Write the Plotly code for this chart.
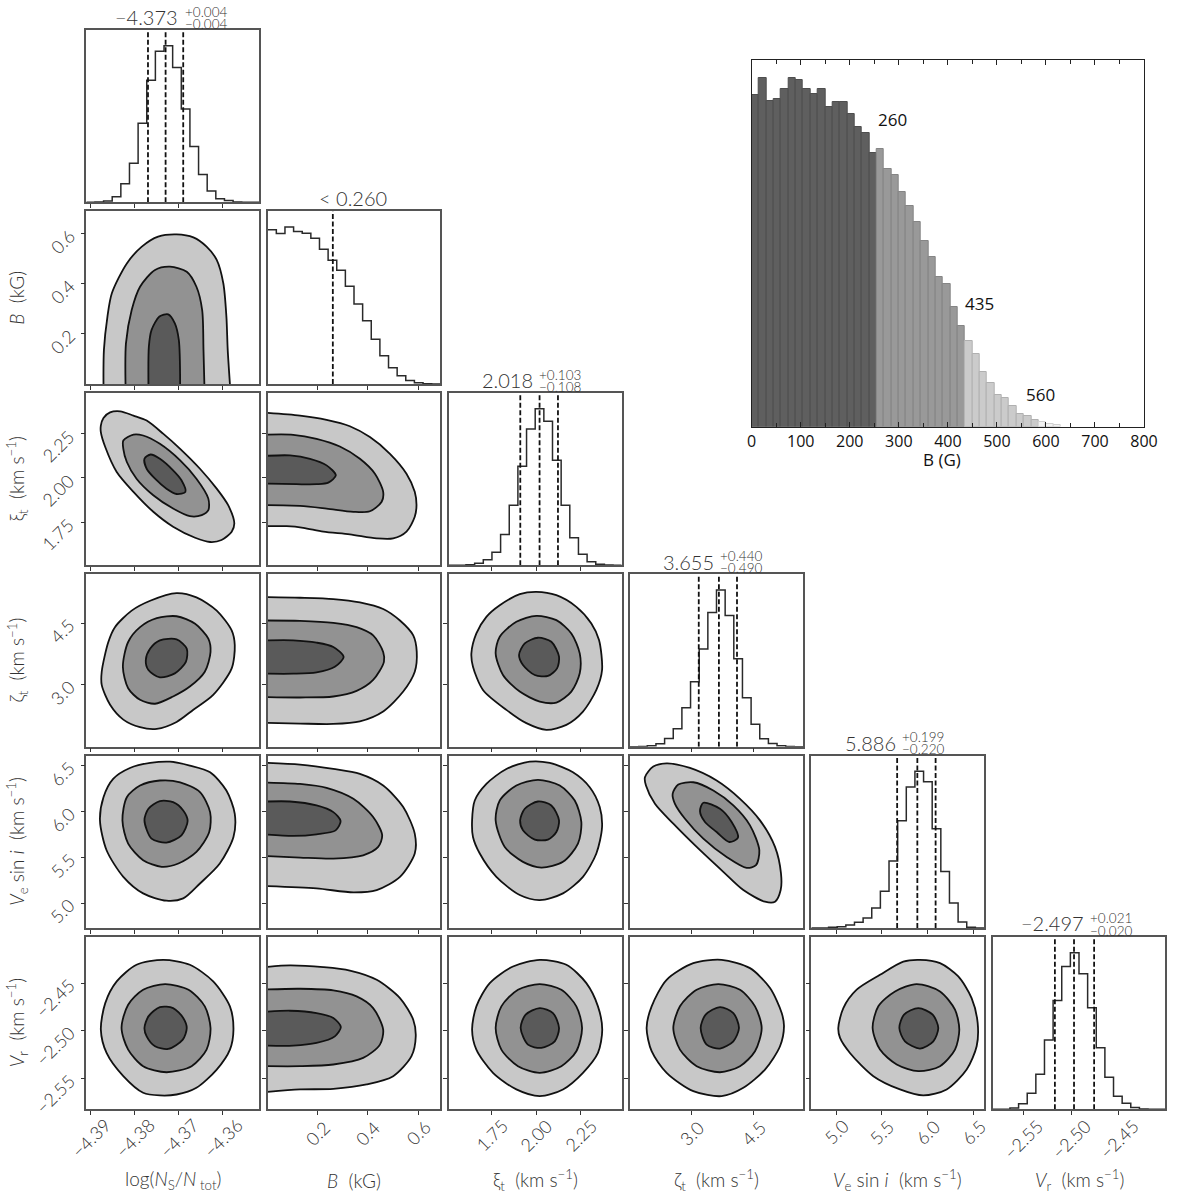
import numpy as np
import plotly.graph_objects as go

W, H = 1200, 1196

# ---- parameters, same order on both axes
labels = ["log(<i>N</i><sub>S</sub>/<i>N</i><sub> tot</sub>)", "<i>B</i>  (kG)",
          "ξ<sub>t</sub>  (km s<sup>−1</sup>)", "ζ<sub>t</sub>  (km s<sup>−1</sup>)",
          "<i>V</i><sub>e</sub> sin <i>i</i>  (km s<sup>−1</sup>)", "<i>V</i><sub>r</sub>  (km s<sup>−1</sup>)"]
ranges = [(-4.391, -4.3518), (0.0, 0.689), (1.509, 2.478), (1.493, 5.70), (4.731, 6.612), (-2.582, -2.4016)]
ticks = [[-4.39, -4.38, -4.37, -4.36], [0.2, 0.4, 0.6], [1.75, 2.0, 2.25], [3.0, 4.5],
         [5.0, 5.5, 6.0, 6.5], [-2.55, -2.5, -2.45]]
tick_text = [["−4.39", "−4.38", "−4.37", "−4.36"], ["0.2", "0.4", "0.6"], ["1.75", "2.00", "2.25"],
             ["3.0", "4.5"], ["5.0", "5.5", "6.0", "6.5"], ["−2.55", "−2.50", "−2.45"]]

# ---- 1D histograms, peak = 100
hist_logn = [0.1, 0.2, 0.9, 3.6, 11.9, 24.9, 50.4, 77.9, 96.4, 100, 86, 59.6, 35.7, 17.7, 7.2, 2.3, 1.1, 0.2, 0.1, 0]
hist_b = [98.3, 95.8, 100, 97.2, 96, 92.8, 85.8, 78.8, 72.4, 62.2, 51, 40.3, 28.5, 18, 10.4, 5.3, 2.3, 0.8, 0.2, 0]
hist_xi = [0, 0, 0.4, 1.3, 3.6, 8.3, 19.7, 38.4, 63.3, 87, 100, 92, 67, 38.4, 17.6, 7, 2.3, 0.6, 0.2, 0]
hist_zeta = [0, 0.2, 0.6, 1.9, 5.3, 11.5, 24.8, 41.4, 62.4, 85.6, 100, 83.7, 56.1, 31.2, 14.4, 5.1, 2.1, 0.6, 0.2, 0]
hist_vsini = [0, 0, 0.4, 0.8, 1.9, 3.6, 6.4, 12.7, 23.4, 42.7, 68.4, 90, 100, 93.4, 63.3, 36.1, 15.9, 3.8, 0.4, 0]
hist_vr = [0, 0, 0.8, 3.6, 10.2, 22.3, 44.2, 69.4, 91.1, 100, 86.6, 64.8, 39.3, 20.4, 8.3, 3.8, 1.1, 0.2, 0, 0]
hists = [hist_logn, hist_b, hist_xi, hist_zeta, hist_vsini, hist_vr]

quantiles = [[-4.377, -4.373, -4.369], [0.260], [1.910, 2.018, 2.121], [3.165, 3.655, 4.095],
             [5.666, 5.886, 6.085], [-2.517, -2.497, -2.476]]

# ---- 2D contours (outer, mid, inner), (x, y) in data units
b_logn_outer = [(-4.3871, 0), (-4.387, .136), (-4.3862, .269), (-4.3852, .362), (-4.3818, .481), (-4.3784, .548), (-4.3747, .588), (-4.3705, .597), (-4.3667, .585), (-4.3637, .548), (-4.3614, .495), (-4.3599, .402), (-4.3592, .269), (-4.3589, .136), (-4.3584, 0)]
b_logn_mid = [(-4.3821, 0), (-4.382, .162), (-4.3807, .295), (-4.3788, .388), (-4.3754, .455), (-4.372, .468), (-4.3682, .448), (-4.366, .388), (-4.3647, .295), (-4.3644, .136), (-4.3642, 0)]
b_logn_inner = [(-4.3769, 0), (-4.3768, .149), (-4.3762, .215), (-4.3744, .269), (-4.3724, .278), (-4.3709, .242), (-4.37, .176), (-4.3697, 0)]

xi_logn_outer = [(-4.3877, 2.295), (-4.3871, 2.338), (-4.3856, 2.369), (-4.3833, 2.375), (-4.3803, 2.351), (-4.3773, 2.323), (-4.3735, 2.248), (-4.3697, 2.164), (-4.3652, 2.052), (-4.3614, 1.940), (-4.3588, 1.847), (-4.3574, 1.744), (-4.358, 1.698), (-4.3603, 1.651), (-4.3629, 1.640), (-4.3663, 1.664), (-4.3713, 1.726), (-4.3758, 1.810), (-4.3803, 1.922), (-4.3841, 2.034), (-4.3867, 2.174), (-4.3877, 2.258)]
xi_logn_mid = [(-4.3826, 2.211), (-4.3803, 2.244), (-4.3781, 2.239), (-4.3743, 2.192), (-4.3697, 2.099), (-4.366, 1.996), (-4.3633, 1.884), (-4.3633, 1.819), (-4.3648, 1.791), (-4.3675, 1.785), (-4.3713, 1.828), (-4.3758, 1.903), (-4.3796, 1.996), (-4.3818, 2.090), (-4.3826, 2.164)]
xi_logn_inner = [(-4.3778, 2.108), (-4.3764, 2.132), (-4.3743, 2.108), (-4.3713, 2.043), (-4.3694, 1.987), (-4.3685, 1.922), (-4.3705, 1.910), (-4.3728, 1.940), (-4.3754, 1.996), (-4.3773, 2.052)]

xi_b_outer = [(0, 2.366), (.129, 2.351), (.235, 2.327), (.328, 2.291), (.408, 2.230), (.488, 2.136), (.554, 2.024), (.587, 1.922), (.594, 1.847), (.587, 1.782), (.554, 1.698), (.501, 1.660), (.435, 1.660), (.328, 1.683), (.222, 1.698), (.142, 1.720), (.076, 1.729), (0, 1.729)]
xi_b_mid = [(0, 2.244), (.102, 2.243), (.195, 2.220), (.288, 2.177), (.368, 2.108), (.428, 2.024), (.461, 1.922), (.455, 1.866), (.408, 1.813), (.342, 1.810), (.235, 1.828), (.129, 1.843), (0, 1.847)]
xi_b_inner = [(0, 2.125), (.089, 2.127), (.169, 2.108), (.235, 2.071), (.272, 2.015), (.242, 1.974), (.195, 1.965), (.116, 1.965), (0, 1.968)]

zeta_logn_outer = [(-4.3875, 3.322), (-4.386, 4.048), (-4.3845, 4.41), (-4.3807, 4.814), (-4.3765, 5.055), (-4.3705, 5.241), (-4.366, 5.136), (-4.3614, 4.814), (-4.358, 4.33), (-4.3573, 3.967), (-4.358, 3.403), (-4.3622, 2.758), (-4.3667, 2.396), (-4.3705, 2.097), (-4.375, 1.928), (-4.3788, 1.968), (-4.3826, 2.154), (-4.3856, 2.516), (-4.3875, 3.0)]
zeta_logn_mid = [(-4.3827, 3.443), (-4.3815, 4.048), (-4.3788, 4.41), (-4.375, 4.628), (-4.3705, 4.676), (-4.3663, 4.491), (-4.3633, 4.128), (-4.3628, 3.806), (-4.3641, 3.322), (-4.3675, 2.96), (-4.3713, 2.718), (-4.3754, 2.541), (-4.3788, 2.637), (-4.3815, 2.919)]
zeta_logn_inner = [(-4.3775, 3.605), (-4.3765, 3.887), (-4.3743, 4.088), (-4.3705, 4.112), (-4.3682, 3.887), (-4.3684, 3.564), (-4.3709, 3.282), (-4.3743, 3.185), (-4.3769, 3.363)]

zeta_b_outer = [(0, 5.144), (.129, 5.128), (.262, 5.096), (.368, 5.015), (.461, 4.854), (.528, 4.572), (.581, 4.209), (.595, 3.806), (.587, 3.322), (.541, 2.839), (.461, 2.355), (.368, 2.113), (.262, 2.049), (.129, 2.057), (0, 2.073)]
zeta_b_mid = [(0, 4.572), (.129, 4.564), (.262, 4.515), (.355, 4.41), (.421, 4.209), (.461, 3.806), (.464, 3.564), (.421, 3.121), (.355, 2.855), (.262, 2.718), (.129, 2.694), (0, 2.702)]
zeta_b_inner = [(0, 4.088), (.102, 4.088), (.195, 4.032), (.262, 3.927), (.303, 3.685), (.268, 3.443), (.195, 3.306), (.102, 3.274), (0, 3.274)]

zeta_xi_outer = [(1.636, 3.77), (1.664, 4.257), (1.72, 4.663), (1.795, 4.946), (1.907, 5.214), (2.0, 5.271), (2.112, 5.19), (2.224, 4.906), (2.308, 4.5), (2.351, 4.095), (2.368, 3.365), (2.336, 2.878), (2.261, 2.351), (2.168, 2.027), (2.056, 1.905), (1.944, 2.067), (1.832, 2.392), (1.701, 2.878), (1.645, 3.446)]
zeta_xi_mid = [(1.772, 3.77), (1.795, 4.176), (1.888, 4.541), (2.0, 4.687), (2.112, 4.581), (2.196, 4.257), (2.243, 3.77), (2.243, 3.284), (2.196, 2.838), (2.112, 2.57), (2.019, 2.595), (1.907, 2.838), (1.813, 3.243)]
zeta_xi_inner = [(1.903, 3.73), (1.935, 4.014), (2.009, 4.152), (2.084, 4.054), (2.127, 3.689), (2.116, 3.405), (2.065, 3.219), (1.991, 3.243), (1.925, 3.487)]

v_logn_outer = [(-4.3879, 5.906), (-4.3871, 6.159), (-4.3849, 6.359), (-4.3811, 6.478), (-4.3765, 6.533), (-4.372, 6.547), (-4.3675, 6.504), (-4.3629, 6.431), (-4.3592, 6.232), (-4.3573, 5.978), (-4.3576, 5.725), (-4.3607, 5.435), (-4.3652, 5.217), (-4.369, 5.054), (-4.3728, 5.029), (-4.3781, 5.109), (-4.3826, 5.29), (-4.3864, 5.58)]
v_logn_mid = [(-4.3828, 5.906), (-4.3818, 6.159), (-4.3788, 6.286), (-4.3743, 6.341), (-4.3697, 6.322), (-4.3652, 6.214), (-4.3629, 5.996), (-4.3631, 5.779), (-4.366, 5.562), (-4.3701, 5.435), (-4.3739, 5.399), (-4.3781, 5.471), (-4.3815, 5.652)]
v_logn_inner = [(-4.3778, 5.906), (-4.3769, 6.033), (-4.3743, 6.116), (-4.3713, 6.105), (-4.369, 6.014), (-4.368, 5.899), (-4.3694, 5.743), (-4.3728, 5.663), (-4.3762, 5.707)]

v_b_outer = [(0, 6.533), (.129, 6.514), (.262, 6.467), (.368, 6.413), (.461, 6.286), (.541, 6.051), (.587, 5.761), (.587, 5.544), (.528, 5.29), (.435, 5.145), (.342, 5.12), (.195, 5.163), (0, 5.188)]
v_b_mid = [(0, 6.319), (.129, 6.304), (.235, 6.261), (.342, 6.141), (.421, 5.942), (.457, 5.743), (.441, 5.616), (.381, 5.525), (.262, 5.489), (.129, 5.5), (0, 5.515)]
v_b_inner = [(0, 6.112), (.089, 6.112), (.195, 6.069), (.262, 5.996), (.291, 5.899), (.271, 5.797), (.195, 5.754), (.102, 5.736), (0, 5.75)]

v_xi_outer = [(1.64, 5.906), (1.655, 6.123), (1.72, 6.304), (1.832, 6.467), (1.963, 6.547), (2.075, 6.533), (2.205, 6.431), (2.299, 6.268), (2.355, 6.051), (2.368, 5.833), (2.336, 5.544), (2.261, 5.29), (2.149, 5.109), (2.019, 5.036), (1.907, 5.091), (1.776, 5.29), (1.683, 5.544), (1.645, 5.725)]
v_xi_mid = [(1.772, 5.906), (1.795, 6.123), (1.888, 6.286), (2.009, 6.348), (2.131, 6.286), (2.215, 6.123), (2.252, 5.888), (2.233, 5.652), (2.149, 5.453), (2.028, 5.391), (1.925, 5.453), (1.823, 5.616)]
v_xi_inner = [(1.909, 5.906), (1.935, 6.033), (2.009, 6.112), (2.084, 6.069), (2.127, 5.906), (2.112, 5.779), (2.065, 5.696), (1.991, 5.696), (1.925, 5.797)]

v_zeta_outer = [(1.856, 6.377), (2.059, 6.493), (2.384, 6.529), (2.951, 6.478), (3.6, 6.341), (4.168, 6.141), (4.654, 5.906), (5.019, 5.616), (5.165, 5.326), (5.157, 5.145), (5.019, 5.018), (4.776, 5.018), (4.249, 5.145), (3.762, 5.344), (3.114, 5.616), (2.546, 5.87), (2.1, 6.087), (1.881, 6.286)]
v_zeta_mid = [(2.53, 6.196), (2.667, 6.297), (3.032, 6.322), (3.519, 6.232), (4.006, 6.069), (4.411, 5.851), (4.638, 5.58), (4.557, 5.417), (4.33, 5.388), (3.843, 5.507), (3.276, 5.707), (2.83, 5.924), (2.586, 6.087)]
v_zeta_inner = [(3.195, 6.007), (3.276, 6.098), (3.681, 6.033), (3.965, 5.888), (4.119, 5.717), (3.908, 5.67), (3.6, 5.779), (3.316, 5.888)]

vr_logn_outer = [(-4.3877, -2.4986), (-4.3867, -2.4708), (-4.3841, -2.4481), (-4.3796, -2.4307), (-4.3735, -2.4255), (-4.3675, -2.4307), (-4.3622, -2.4481), (-4.3584, -2.4742), (-4.3576, -2.4986), (-4.3584, -2.5195), (-4.3614, -2.5404), (-4.366, -2.5595), (-4.3705, -2.5665), (-4.3743, -2.5675), (-4.3781, -2.5647), (-4.3826, -2.5473), (-4.3864, -2.523)]
vr_logn_mid = [(-4.383, -2.4969), (-4.3815, -2.4725), (-4.3781, -2.4568), (-4.3731, -2.4509), (-4.3678, -2.4568), (-4.3641, -2.4742), (-4.3628, -2.4969), (-4.3637, -2.5195), (-4.3671, -2.5369), (-4.3728, -2.5432), (-4.3781, -2.5369), (-4.3815, -2.5195)]
vr_logn_inner = [(-4.3778, -2.4969), (-4.3769, -2.4847), (-4.3743, -2.475), (-4.3713, -2.476), (-4.369, -2.4864), (-4.3682, -2.4969), (-4.3691, -2.509), (-4.3724, -2.5188), (-4.3754, -2.516), (-4.3773, -2.5056)]

vr_b_outer = [(0, -2.4328), (.089, -2.4314), (.222, -2.4332), (.328, -2.4367), (.435, -2.4464), (.528, -2.4655), (.581, -2.4882), (.591, -2.5056), (.574, -2.5264), (.501, -2.5473), (.395, -2.556), (.262, -2.5606), (.129, -2.5612), (0, -2.5637)]
vr_b_mid = [(0, -2.4565), (.129, -2.4558), (.262, -2.4575), (.355, -2.4638), (.421, -2.476), (.461, -2.4986), (.448, -2.5143), (.381, -2.5282), (.262, -2.5351), (.129, -2.5369), (0, -2.5369)]
vr_b_inner = [(0, -2.4798), (.089, -2.4788), (.195, -2.4812), (.262, -2.4864), (.292, -2.4958), (.268, -2.5056), (.195, -2.5125), (.102, -2.5153), (0, -2.5153)]

vr_xi_outer = [(1.64, -2.4986), (1.664, -2.4742), (1.739, -2.4499), (1.869, -2.4325), (2.019, -2.4255), (2.168, -2.4307), (2.28, -2.4499), (2.345, -2.4742), (2.369, -2.4986), (2.345, -2.523), (2.261, -2.5438), (2.149, -2.5612), (2.019, -2.5682), (1.888, -2.5612), (1.757, -2.5438), (1.664, -2.5195)]
vr_xi_mid = [(1.772, -2.4969), (1.804, -2.4742), (1.897, -2.4568), (2.019, -2.4509), (2.14, -2.4568), (2.224, -2.4742), (2.256, -2.4969), (2.224, -2.5212), (2.14, -2.5369), (2.019, -2.5438), (1.897, -2.5369), (1.804, -2.5195)]
vr_xi_inner = [(1.912, -2.4969), (1.94, -2.4829), (2.019, -2.476), (2.093, -2.4812), (2.127, -2.4969), (2.103, -2.5108), (2.028, -2.5177), (1.953, -2.5143)]

vr_zeta_outer = [(1.897, -2.4969), (2.019, -2.4742), (2.384, -2.4464), (3.032, -2.429), (3.722, -2.4255), (4.411, -2.4342), (4.898, -2.4551), (5.182, -2.4812), (5.238, -2.4951), (5.141, -2.516), (4.776, -2.5404), (4.249, -2.5595), (3.722, -2.5682), (3.032, -2.563), (2.384, -2.5438), (2.019, -2.5212)]
vr_zeta_mid = [(2.546, -2.4969), (2.708, -2.4742), (3.114, -2.4568), (3.641, -2.4509), (4.168, -2.4568), (4.533, -2.4742), (4.695, -2.4969), (4.533, -2.5212), (4.168, -2.5369), (3.681, -2.5432), (3.114, -2.5369), (2.708, -2.5195)]
vr_zeta_inner = [(3.211, -2.4969), (3.333, -2.4829), (3.681, -2.475), (4.006, -2.4812), (4.143, -2.4969), (4.006, -2.5108), (3.681, -2.5184), (3.357, -2.5143)]

vr_v_outer = [(5.025, -2.4969), (5.08, -2.476), (5.225, -2.4568), (5.479, -2.4412), (5.733, -2.4273), (5.915, -2.4255), (6.133, -2.429), (6.332, -2.4429), (6.477, -2.4655), (6.543, -2.4916), (6.532, -2.516), (6.423, -2.5404), (6.205, -2.5612), (5.951, -2.5675), (5.697, -2.5612), (5.407, -2.5473), (5.152, -2.523), (5.044, -2.5073)]
vr_v_mid = [(5.399, -2.4969), (5.461, -2.4742), (5.643, -2.4586), (5.878, -2.4509), (6.133, -2.4586), (6.296, -2.4777), (6.343, -2.4986), (6.296, -2.5195), (6.133, -2.5369), (5.897, -2.5421), (5.661, -2.5351), (5.479, -2.5195)]
vr_v_inner = [(5.69, -2.4969), (5.741, -2.4829), (5.897, -2.476), (6.053, -2.4829), (6.114, -2.4969), (6.06, -2.5108), (5.915, -2.5184), (5.751, -2.5108)]

contours = {
    (1, 0): [b_logn_outer, b_logn_mid, b_logn_inner],
    (2, 0): [xi_logn_outer, xi_logn_mid, xi_logn_inner],
    (2, 1): [xi_b_outer, xi_b_mid, xi_b_inner],
    (3, 0): [zeta_logn_outer, zeta_logn_mid, zeta_logn_inner],
    (3, 1): [zeta_b_outer, zeta_b_mid, zeta_b_inner],
    (3, 2): [zeta_xi_outer, zeta_xi_mid, zeta_xi_inner],
    (4, 0): [v_logn_outer, v_logn_mid, v_logn_inner],
    (4, 1): [v_b_outer, v_b_mid, v_b_inner],
    (4, 2): [v_xi_outer, v_xi_mid, v_xi_inner],
    (4, 3): [v_zeta_outer, v_zeta_mid, v_zeta_inner],
    (5, 0): [vr_logn_outer, vr_logn_mid, vr_logn_inner],
    (5, 1): [vr_b_outer, vr_b_mid, vr_b_inner],
    (5, 2): [vr_xi_outer, vr_xi_mid, vr_xi_inner],
    (5, 3): [vr_zeta_outer, vr_zeta_mid, vr_zeta_inner],
    (5, 4): [vr_v_outer, vr_v_mid, vr_v_inner],
}

# ---- inset histogram of B in gauss
inset_counts = [995, 1046, 977, 984, 1012, 1047, 1040, 1014, 999, 1012, 959, 975, 973, 939, 899, 880, 822,
                832, 772, 755, 703, 661, 614, 557, 508, 449, 429, 360, 303,
                257, 219, 164, 132, 96, 85, 62, 38, 32, 19,
                14, 8, 5]
inset_group = [0] * 17 + [1] * 12 + [2] * 10 + [3] * 3
inset_bin = 15
inset_marks = [("260", 288, 922), ("435", 464, 370), ("560", 589, 98)]

# ---- layout bits (pixels of the page)
col_px = [(86.3, 259), (267.7, 440.3), (448.7, 621.7), (630, 803), (811.3, 984), (992.7, 1165.3)]
row_px = [(30, 202.3), (211.3, 384), (393, 565.3), (574.3, 746.7), (755.7, 928), (937, 1109.3)]
fills = ["#c8c8c8", "#929292", "#5a5a5a"]
bar_fill = ["#5f5f5f", "#999999", "#cbcbcb", "#f2f2f2"]
bar_edge = ["#4e4e4e", "#858585", "#b0b0b0", "#d0d0d0"]
FONT = "Lato"
INK = "#333333"
# main text right x, y, superscript left x, sup y, sub y
titles = [("−4.373", "+0.004", "−0.004", 180, 17, 183, 12, 24),
          ("2.018", "+0.103", "−0.108", 535, 380, 537, 375, 387),
          ("3.655", "+0.440", "−0.490", 716, 562, 718, 556, 568),
          ("5.886", "+0.199", "−0.220", 898, 743, 900, 737, 749),
          ("−2.497", "+0.021", "−0.020", 1086, 923, 1088, 918, 931)]
xlabel_y = [1138, 1133, 1135, 1133, 1132, 1139]
ylabel_x = [0, 62, 58, 62, 62, 55]
ylabel_drop = [0, 8, 12, 8, 8, 15]


def px(x):
    return x / W


def py(y):
    return 1 - y / H


def text_note(x, y, text, font, xref="paper", yref="paper", xanchor="center", **kw):
    return dict(x=x, y=y, xref=xref, yref=yref, text=text, showarrow=False, xanchor=xanchor, yanchor="middle",
                font=font, **kw)


def add_axes(layout, n, col, row, xr, yr, xt, yt):
    base = dict(showgrid=False, zeroline=False, showline=True, mirror=True, linecolor="#555555", linewidth=1.5,
                showticklabels=False, ticks="outside", ticklen=4, tickwidth=1.2, tickcolor="#333333")
    layout[f"xaxis{n}"] = dict(base, domain=[px(col[0]), px(col[1])], range=xr, tickvals=xt, anchor=f"y{n}")
    layout[f"yaxis{n}"] = dict(base, domain=[py(row[1]), py(row[0])], range=yr, tickvals=yt, anchor=f"x{n}")


tick_font = dict(family=FONT, size=18, color=INK, weight=300)
name_font = dict(family=FONT, size=19, color=INK, weight=300)
main_font = dict(family=FONT, size=20, color=INK, weight=300)
small_font = dict(family=FONT, size=13.5, color=INK, weight=300)
inset_font = dict(family="Open Sans", size=17, color="#111111")

fig = go.Figure()
layout = {}
ann = []
n = 0
for r in range(6):
    for c in range(r + 1):
        n += 1
        if r == c:
            add_axes(layout, n, col_px[c], row_px[r], ranges[c], [0, 110], ticks[c], [])
            edges = np.linspace(ranges[c][0], ranges[c][1], 21)
            fig.add_trace(go.Scatter(x=edges, y=hists[c] + [hists[c][-1]], mode="lines",
                                     line=dict(color="#2a2a2a", width=1.5, shape="hv"),
                                     xaxis=f"x{n}", yaxis=f"y{n}", hoverinfo="skip", showlegend=False))
            for q in quantiles[c]:
                fig.add_trace(go.Scatter(x=[q, q], y=[0, 110], mode="lines",
                                         line=dict(color="#111111", width=1.8, dash="5px,2.5px"),
                                         xaxis=f"x{n}", yaxis=f"y{n}", hoverinfo="skip", showlegend=False))
        else:
            add_axes(layout, n, col_px[c], row_px[r], ranges[c], ranges[r], ticks[c], ticks[r])
            for level, points in enumerate(contours[(r, c)]):
                pts = list(points)
                if pts[0][0] != 0 and pts[-1][0] != 0 and (r, c) != (1, 0):
                    pts = pts + [pts[0]]
                fig.add_trace(go.Scatter(x=[p[0] for p in pts], y=[p[1] for p in pts], mode="lines", fill="toself",
                                         fillcolor=fills[level],
                                         line=dict(color="#111111", width=1.8, shape="spline", smoothing=0.8),
                                         xaxis=f"x{n}", yaxis=f"y{n}", hoverinfo="skip", showlegend=False))
        # tick labels are rotated about their centre, so they go in as annotations
        if r == 5:
            for v, t in zip(ticks[c], tick_text[c]):
                ann.append(text_note(v, py(xlabel_y[c]), t, tick_font, xref=f"x{n}", textangle=-45))
        if c == 0 and r > 0:
            for v, t in zip(ticks[r], tick_text[r]):
                ann.append(text_note(px(ylabel_x[r]), v, t, tick_font, yref=f"y{n}", textangle=-45,
                                     yshift=-ylabel_drop[r]))

# axis names
for c in range(6):
    ann.append(text_note(px(sum(col_px[c]) / 2), py(1180), labels[c], name_font))
for r in range(1, 6):
    ann.append(text_note(px(17), py(sum(row_px[r]) / 2), labels[r], name_font, textangle=-90))

# histogram titles
for main, up, down, mx, my, sx, uy, dy in titles:
    ann.append(text_note(px(mx), py(my), main, main_font, xanchor="right"))
    ann.append(text_note(px(sx), py(uy), up, small_font, xanchor="left"))
    ann.append(text_note(px(sx), py(dy), down, small_font, xanchor="left"))
ann.append(text_note(px(353), py(198), "&lt; 0.260", main_font))

# inset
n += 1
inset_x = [inset_bin * (i + 0.5) for i in range(len(inset_counts))]
fig.add_trace(go.Bar(x=inset_x, y=inset_counts, width=inset_bin,
                     marker=dict(color=[bar_fill[g] for g in inset_group],
                                 line=dict(color=[bar_edge[g] for g in inset_group], width=1)),
                     xaxis=f"x{n}", yaxis=f"y{n}", hoverinfo="skip", showlegend=False))
layout[f"xaxis{n}"] = dict(domain=[px(751.7), px(1144)], range=[0, 800], anchor=f"y{n}", tickvals=list(range(0, 801, 100)),
                           showgrid=False, zeroline=False, showline=True, mirror="ticks", linecolor="#222222",
                           linewidth=1.3, ticks="inside", ticklen=5, tickwidth=1.2, tickcolor="#222222",
                           minor=dict(ticks="inside", ticklen=3.5, tickwidth=1.2, dtick=50, tick0=0,
                                      tickcolor="#222222", showgrid=False),
                           tickfont=dict(family="Open Sans", size=16, color="#111111"))
layout[f"yaxis{n}"] = dict(domain=[py(426.7), py(60)], range=[0, 1100], anchor=f"x{n}", showgrid=False, zeroline=False,
                           showline=True, mirror=True, linecolor="#222222", linewidth=1.3, showticklabels=False,
                           ticks="")
for txt, mx, my in inset_marks:
    ann.append(text_note(mx, my, txt, inset_font, xref=f"x{n}", yref=f"y{n}"))
ann.append(text_note(px(942), py(460), "B (G)", inset_font))

fig.update_layout(width=W, height=H, margin=dict(l=0, r=0, t=0, b=0, autoexpand=False), plot_bgcolor="white",
                  paper_bgcolor="white", bargap=0, annotations=ann, **layout)
fig.write_html("out.html", post_script="document.body.style.margin='0';", config={"displayModeBar": False})
